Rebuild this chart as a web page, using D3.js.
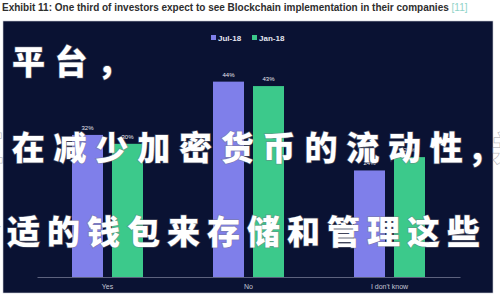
<!DOCTYPE html>
<meta charset="utf-8">
<script src="https://d3js.org/d3.v7.min.js"></script>
<style>
  body { margin: 0; background: #fff; }
</style>
<div id="my_dataviz"></div>
<script>
// Chart data
var categories = ["Yes", "No", "I don't know"];
var series = ["Jul-18", "Jan-18"];
var jul18 = [32, 44, 24];
var jan18 = [30, 43, 27];
var colors = ["#7f7fea", "#3cc98b"];

// Overlaid text lines
var overlayLines = ["平台，", "正在减少加密货币的流动性,并", "合适的钱包来存储和管理这些"];

var width = 500, height = 300;

var svg = d3.select("#my_dataviz")
  .append("svg")
    .attr("width", width)
    .attr("height", height);

// Title above the panel
var title = svg.append("text")
    .attr("x", 2)
    .attr("y", 11)
    .style("font-family", "Liberation Sans, Arial, sans-serif")
    .style("font-weight", "bold")
    .style("font-size", "10px")
    .style("fill", "#2e2e2e");
title.append("tspan").text("Exhibit 11: One third of investors expect to see Blockchain implementation in their companies ");
title.append("tspan").style("fill", "#8fd3c8").style("font-weight", "normal").text("[11]");

// Dark panel
svg.append("rect")
    .attr("x", 3)
    .attr("y", 21)
    .attr("width", 490)
    .attr("height", 272)
    .attr("fill", "#0a1233")
    .attr("stroke", "#c9ccd6")
    .attr("stroke-width", 0.6);

// Scales
var x = d3.scaleBand()
  .domain(categories)
  .range([37, 460]);

var xSub = d3.scaleBand()
  .domain(series)
  .range([0, x.bandwidth()])
  .paddingInner(0.225)
  .paddingOuter(0.875);

var y = d3.scaleLinear()
  .domain([0, 50])
  .range([277, 55]);

// Axis
var axis = svg.append("g")
  .attr("transform", "translate(0," + y(0) + ")")
  .call(d3.axisBottom(x).tickSize(0).tickPadding(7));
axis.select(".domain").attr("stroke", "#5d627e");
axis.selectAll(".tick text")
  .style("font-family", "Liberation Sans, Arial, sans-serif")
  .style("font-size", "7px")
  .style("fill", "#c3c6d3");

// Bars
var rows = categories.map(function(c, i) {
  return [{cat: c, s: series[0], v: jul18[i], color: colors[0]},
          {cat: c, s: series[1], v: jan18[i], color: colors[1]}];
});
var flat = [].concat.apply([], rows);

svg.selectAll("rect.bar")
  .data(flat)
  .enter()
  .append("rect")
    .attr("class", "bar")
    .attr("x", function(d) { return x(d.cat) + xSub(d.s); })
    .attr("y", function(d) { return y(d.v); })
    .attr("width", xSub.bandwidth())
    .attr("height", function(d) { return y(0) - y(d.v); })
    .attr("fill", function(d) { return d.color; });

// Value labels
svg.selectAll("text.val")
  .data(flat)
  .enter()
  .append("text")
    .attr("class", "val")
    .attr("x", function(d) { return x(d.cat) + xSub(d.s) + xSub.bandwidth() / 2; })
    .attr("y", function(d) { return y(d.v) - 5; })
    .attr("text-anchor", "middle")
    .style("font-family", "Liberation Sans, Arial, sans-serif")
    .style("font-size", "6px")
    .style("fill", "#e8e8f0")
    .text(function(d) { return d.v + "%"; });

// Legend
var legend = svg.append("g")
  .selectAll("g")
  .data(series)
  .enter()
  .append("g")
    .attr("transform", function(d, i) { return "translate(" + (211 + i * 41) + ",35)"; });
legend.append("rect")
    .attr("width", 5)
    .attr("height", 5)
    .attr("fill", function(d, i) { return colors[i]; });
legend.append("text")
    .attr("x", 7)
    .attr("y", 5.5)
    .style("font-family", "Liberation Sans, Arial, sans-serif")
    .style("font-weight", "bold")
    .style("font-size", "8px")
    .style("fill", "#e4e6f0")
    .text(function(d) { return d; });

// Big white overlaid text
var lineX = [12, -30, -33];
var lineY = [74, 160, 244];
var lineSpacing = [9.5, 8.8, 7];
svg.selectAll("text.overlay")
  .data(overlayLines)
  .enter()
  .append("text")
    .attr("class", "overlay")
    .attr("x", function(d, i) { return lineX[i]; })
    .attr("y", function(d, i) { return lineY[i]; })
    .style("font-family", "Noto Sans CJK SC, sans-serif")
    .style("font-weight", "900")
    .style("font-size", "33px")
    .style("letter-spacing", function(d, i) { return lineSpacing[i] + "px"; })
    .style("fill", "#ffffff")
    .style("paint-order", "stroke")
    .style("stroke", "rgba(120,120,130,0.5)")
    .style("stroke-width", "1.5px")
    .text(function(d) { return d; });
</script>
